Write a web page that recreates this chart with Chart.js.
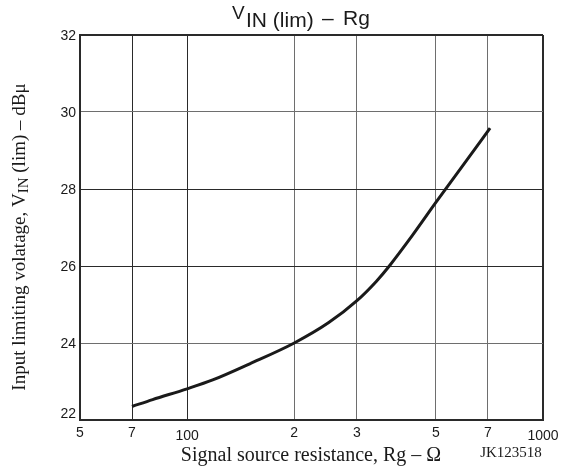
<!DOCTYPE html>
<html>
<head>
<meta charset="utf-8">
<title>VIN (lim) - Rg</title>
<script src="https://cdn.jsdelivr.net/npm/chart.js@4/dist/chart.umd.min.js"></script>
<style>
  html, body { margin: 0; padding: 0; background: #fff; }
  #wrap { width: 565px; height: 467px; }
</style>
</head>
<body>
<div id="wrap"><canvas id="chart" width="565" height="467"></canvas></div>
<script>
// curve
const rgOhm = [70, 80, 100, 118, 150, 200, 250, 300, 340, 370, 430, 500, 600, 710];
const vinLim = [22.35, 22.53, 22.81, 23.04, 23.46, 24.0, 24.53, 25.1, 25.6, 26.0, 26.8, 27.65, 28.65, 29.58];

const xTickValues = [50, 70, 100, 200, 300, 500, 700, 1000];
const xTickLabels = ['5', '7', '100', '2', '3', '5', '7', '1000'];
const yTickValues = [22, 24, 26, 28, 30, 32];
const yTickLabels = ['22', '24', '26', '28', '30', '32'];

const DARK = '#2a2a2a';
const GREY = '#6e6e6e';
const SANS = '"Liberation Sans", Arial, sans-serif';
const SERIF = '"Liberation Serif", "Times New Roman", serif';

function drawRuns(ctx, runs, x, y) {
    // runs: [text, font, dy]
    let cx = x;
    for (const [text, font, dy] of runs) {
        ctx.font = font;
        ctx.fillText(text, cx, y + dy);
        cx += ctx.measureText(text).width;
    }
    return cx - x;
}

function runsWidth(ctx, runs) {
    let w = 0;
    for (const [text, font] of runs) {
        ctx.font = font;
        w += ctx.measureText(text).width;
    }
    return w;
}

const labelsPlugin = {
    id: 'labels',
    afterDraw(chart) {
        const ctx = chart.ctx;
        const xs = chart.scales.x;
        const ys = chart.scales.y;
        const area = chart.chartArea;
        ctx.save();
        ctx.fillStyle = '#1a1a1a';
        ctx.textBaseline = 'alphabetic';

        // title
        ctx.textAlign = 'left';
        ctx.font = '19px ' + SANS;
        ctx.fillText('V', 232, 19);
        ctx.font = '21px ' + SANS;
        ctx.fillText('IN (lim)', 246, 27);
        ctx.fillText('\u2013', 322, 25);
        ctx.fillText('Rg', 343, 25);

        // x tick labels
        ctx.font = '14px ' + SANS;
        ctx.textAlign = 'center';
        xTickValues.forEach((v, i) => {
            const lbl = xTickLabels[i];
            const low = lbl.length > 1;
            ctx.fillText(lbl, xs.getPixelForValue(v), area.bottom + (low ? 20 : 17));
        });

        // y tick labels
        ctx.textAlign = 'right';
        yTickValues.forEach((v, i) => {
            const off = v === 22 ? -2 : 5;
            ctx.fillText(yTickLabels[i], area.left - 4, ys.getPixelForValue(v) + off);
        });

        // x axis title
        ctx.textAlign = 'center';
        ctx.font = '20px ' + SERIF;
        ctx.fillText('Signal source resistance, Rg \u2013 \u03A9', 311, 461);

        // figure code
        ctx.font = '15px ' + SERIF;
        ctx.fillText('JK123518', 511, 457);

        // y axis title
        const runs = [
            ['Input limiting volatage, V', '19px ' + SERIF, 0],
            ['IN', '15px ' + SERIF, 3],
            [' (lim) \u2013 dB\u03BC', '19px ' + SERIF, 0]
        ];
        ctx.translate(25, 237);
        ctx.rotate(-Math.PI / 2);
        ctx.textAlign = 'left';
        drawRuns(ctx, runs, -runsWidth(ctx, runs) / 2, 0);
        ctx.restore();
    }
};

const xGridColor = (c) => {
    const v = c.tick && c.tick.value;
    if (v === 50 || v === 1000) return DARK;
    return (v === 70 || v === 100) ? DARK : GREY;
};
const yGridColor = (c) => {
    const v = c.tick && c.tick.value;
    if (v === 22 || v === 32) return DARK;
    return (v === 26 || v === 28) ? DARK : GREY;
};

new Chart(document.getElementById('chart'), {
    type: 'line',
    data: {
        datasets: [{
            data: rgOhm.map((r, i) => ({ x: r, y: vinLim[i] })),
            borderColor: '#1a1a1a',
            borderWidth: 3,
            pointRadius: 0,
            cubicInterpolationMode: 'monotone',
            fill: false
        }]
    },
    options: {
        responsive: false,
        animation: false,
        layout: { padding: { left: 80, right: 22, top: 35, bottom: 47 } },
        plugins: {
            legend: { display: false },
            tooltip: { enabled: false }
        },
        scales: {
            x: {
                type: 'logarithmic',
                min: 50,
                max: 1000,
                afterBuildTicks(scale) {
                    scale.ticks = xTickValues.map(v => ({ value: v }));
                },
                ticks: { display: false },
                grid: {
                    color: xGridColor,
                    lineWidth: (c) => (c.tick && (c.tick.value === 50 || c.tick.value === 1000)) ? 2 : 1,
                    drawTicks: false
                },
                border: { display: true, color: DARK, width: 2 }
            },
            y: {
                type: 'linear',
                min: 22,
                max: 32,
                afterBuildTicks(scale) {
                    scale.ticks = yTickValues.map(v => ({ value: v }));
                },
                ticks: { display: false },
                grid: {
                    color: yGridColor,
                    lineWidth: (c) => (c.tick && (c.tick.value === 22 || c.tick.value === 32)) ? 2 : 1,
                    drawTicks: false
                },
                border: { display: true, color: DARK, width: 2 }
            }
        }
    },
    plugins: [labelsPlugin]
});
</script>
</body>
</html>
